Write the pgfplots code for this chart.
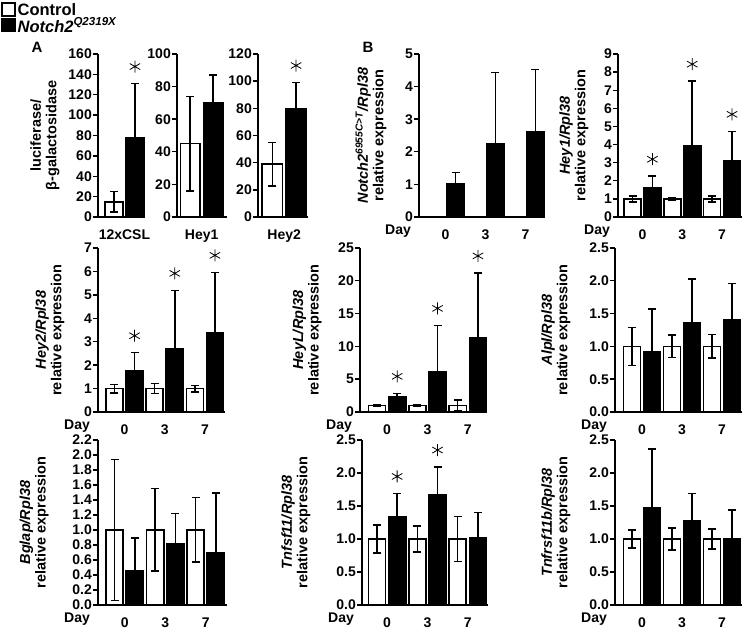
\documentclass[border=0pt]{standalone}
\usepackage{fontspec}
\setmainfont{Liberation Sans}
\usepackage{pgfplots}
\pgfplotsset{compat=1.18}

\newcommand{\tfont}{\bfseries\fontsize{14}{14}\selectfont}
\newcommand{\lfont}{\bfseries\fontsize{14.5}{15.5}\selectfont}

\pgfplotsset{
  panel/.style={
    scale only axis, anchor=south west, clip=false,
    axis x line*=bottom, axis y line*=left,
    axis line style={line width=1.6pt, -},
    every outer x axis line/.append style={-},
    every outer y axis line/.append style={-},
    ymin=0,
    tick align=outside,
    major tick length=5pt,
    ytick style={line width=1.4pt, black},
    xtick style={draw=none},
    tick label style={font=\tfont},
    /pgf/number format/assume math mode=true,
    xticklabel style={inner sep=0pt, yshift=-7.5pt},
    yticklabel style={inner sep=0pt, xshift=-1pt},
    ylabel style={font=\lfont, align=center, anchor=center},
    scaled y ticks=false,
  },
  dayaxis/.style={panel, xtick={0.5,2.5,4.5}, xticklabels={0,3,7}},
  ctrl/.style={ybar, bar width=0.85, bar shift=0pt, fill=white, draw=black, line width=1.6pt, forget plot,
     error bars/.cd, y dir=both, y explicit, error bar style={line width=1.5pt, black}, error mark options={rotate=90, line width=1.5pt, mark size=4pt, black}},
  mut/.style={ybar, bar width=0.85, bar shift=0pt, fill=black, draw=black, line width=1.6pt, forget plot,
     error bars/.cd, y dir=plus, y explicit, error bar style={line width=1.5pt, black}, error mark options={rotate=90, line width=1.5pt, mark size=4pt, black}},
  star/.style={only marks, forget plot, mark=asterisk, mark size=6pt, mark options={line width=0.8pt, yshift=17pt, black}},
  onedec/.style={yticklabel style={/pgf/number format/.cd, fixed, fixed zerofill, precision=1}},
}
\newcommand{\daylabel}{\node[anchor=north, inner sep=0pt, font=\tfont] at ([xshift=-21pt,yshift=-7.5pt]rel axis cs:0,0) {Day};}

\begin{document}
\begin{tikzpicture}[x=1pt,y=1pt]
\path[use as bounding box] (0,0) rectangle (745,631);

\node[font=\bfseries\fontsize{15}{15}\selectfont] at (37,584) {A};
\node[font=\bfseries\fontsize{15}{15}\selectfont] at (368,584) {B};

% ---------- Panel A: 12xCSL ----------
\begin{axis}[panel, at={(98pt,414pt)}, width=47pt, height=163pt,
  xmin=-0.76, xmax=1.48, ymax=160, ytick={0,20,...,160},
  xtick={0.5}, xticklabels={12xCSL},
  ylabel={luciferase/\\β-galactosidase},
  ylabel style={at={(axis description cs:-1.13,0.5)}},
  legend style={at={(axis description cs:-2.064,1.325)}, anchor=north west, draw=none, fill=none,
     inner sep=0pt, font=\bfseries\fontsize{16.5}{17}\selectfont, cells={anchor=west}, row sep=-3pt},
]
\addplot[ctrl] coordinates {(0,15) +- (0,10)};
\addplot[mut] coordinates {(1,78) +- (0,53)};
\addplot[star] coordinates {(1,131)};
\addlegendimage{legend image code/.code={\draw[fill=white,draw=black,line width=1.4pt] (0pt,-6pt) rectangle (13pt,7pt);}}
\addlegendentry{Control}
\addlegendimage{legend image code/.code={\draw[fill=black,draw=black,line width=1.4pt] (0pt,-6pt) rectangle (13pt,7pt);}}
\addlegendentry{\textit{Notch2}\textsuperscript{\textit{Q2319X}}}
\end{axis}

% ---------- Panel A: Hey1 ----------
\begin{axis}[panel, at={(177pt,414pt)}, width=50pt, height=163pt,
  xmin=-0.57, xmax=1.6, ymax=100, ytick={0,20,...,100},
  xtick={0.5}, xticklabels={Hey1}]
\addplot[ctrl] coordinates {(0,45) +- (0,29)};
\addplot[mut] coordinates {(1,70) +- (0,17)};
\end{axis}

% ---------- Panel A: Hey2 ----------
\begin{axis}[panel, at={(258pt,414pt)}, width=50pt, height=163pt,
  xmin=-0.6, xmax=1.5, ymax=120, ytick={0,20,...,120},
  xtick={0.5}, xticklabels={Hey2}]
\addplot[ctrl] coordinates {(0,39) +- (0,16)};
\addplot[mut] coordinates {(1,80) +- (0,19)};
\addplot[star] coordinates {(1,99)};
\end{axis}

% ---------- B: Notch2 ----------
\begin{axis}[dayaxis, at={(419pt,414pt)}, width=126pt, height=163pt,
  xmin=-0.83, xmax=5.48, ymax=5, ytick={0,1,...,5},
  ylabel={\textit{Notch2}\textsuperscript{\textit{6955C>T}}\textit{/Rpl38}\\relative expression},
  ylabel style={at={(axis description cs:-0.381,0.5)}}]
\addplot[mut] coordinates {(1,1.02) +- (0,0.34) (3,2.23) +- (0,2.21) (5,2.61) +- (0,1.92)};
\daylabel
\end{axis}

% ---------- B: Hey1 ----------
\begin{axis}[dayaxis, at={(618pt,414pt)}, width=124pt, height=163pt,
  xmin=-0.73, xmax=5.5, ymax=9, ytick={0,1,...,9},
  ylabel={\textit{Hey1/Rpl38}\\relative expression},
  ylabel style={at={(axis description cs:-0.355,0.5)}}]
\addplot[ctrl] coordinates {(0,1) +- (0,0.17) (2,1) +- (0,0.09) (4,1) +- (0,0.17)};
\addplot[mut] coordinates {(1,1.61) +- (0,0.64) (3,3.92) +- (0,3.58) (5,3.13) +- (0,1.6)};
\addplot[star] coordinates {(1,2.25) (3,7.5) (5,4.73)};
\daylabel
\end{axis}

% ---------- B: Hey2 ----------
\begin{axis}[dayaxis, at={(98pt,219pt)}, width=127pt, height=164pt,
  xmin=-0.82, xmax=5.5, ymax=7, ytick={0,1,...,7},
  ylabel={\textit{Hey2/Rpl38}\\relative expression},
  ylabel style={at={(axis description cs:-0.378,0.5)}}]
\addplot[ctrl] coordinates {(0,1) +- (0,0.18) (2,1) +- (0,0.22) (4,1) +- (0,0.14)};
\addplot[mut] coordinates {(1,1.76) +- (0,0.77) (3,2.71) +- (0,2.48) (5,3.39) +- (0,2.57)};
\addplot[star] coordinates {(1,2.53) (3,5.19) (5,5.96)};
\daylabel
\end{axis}

% ---------- B: HeyL ----------
\begin{axis}[dayaxis, at={(360pt,219pt)}, width=127pt, height=164pt,
  xmin=-0.84, xmax=5.45, ymax=25, ytick={0,5,...,25},
  ylabel={\textit{HeyL/Rpl38}\\relative expression},
  ylabel style={at={(axis description cs:-0.417,0.5)}}]
\addplot[ctrl] coordinates {(0,1) +- (0,0.15) (2,1) +- (0,0.15) (4,1) +- (0,0.8)};
\addplot[mut] coordinates {(1,2.24) +- (0,0.6) (3,6.15) +- (0,7.05) (5,11.3) +- (0,9.9)};
\addplot[star] coordinates {(1,2.84) (3,13.2) (5,21.2)};
\daylabel
\end{axis}

% ---------- B: Alpl ----------
\begin{axis}[dayaxis, onedec, at={(615pt,219pt)}, width=127pt, height=164pt,
  xmin=-0.85, xmax=5.5, ymax=2.5, ytick={0,0.5,...,2.5},
  ylabel={\textit{Alpl/Rpl38}\\relative expression},
  ylabel style={at={(axis description cs:-0.465,0.5)}}]
\addplot[ctrl] coordinates {(0,1) +- (0,0.29) (2,1) +- (0,0.17) (4,1) +- (0,0.18)};
\addplot[mut] coordinates {(1,0.92) +- (0,0.65) (3,1.36) +- (0,0.67) (5,1.40) +- (0,0.56)};
\daylabel
\end{axis}

% ---------- B: Bglap ----------
\begin{axis}[dayaxis, onedec, at={(98pt,26pt)}, width=129pt, height=165pt,
  xmin=-0.82, xmax=5.55, ymax=2.2, ytick={0,0.2,...,2.2},
  ylabel={\textit{Bglap/Rpl38}\\relative expression},
  ylabel style={at={(axis description cs:-0.496,0.5)}}]
\addplot[ctrl] coordinates {(0,1) +- (0,0.94) (2,1) +- (0,0.55) (4,1) +- (0,0.43)};
\addplot[mut] coordinates {(1,0.46) +- (0,0.43) (3,0.81) +- (0,0.41) (5,0.70) +- (0,0.79)};
\daylabel
\end{axis}

% ---------- B: Tnfsf11 ----------
\begin{axis}[dayaxis, onedec, at={(362pt,26pt)}, width=126pt, height=165pt,
  xmin=-0.74, xmax=5.5, ymax=2.5, ytick={0,0.5,...,2.5},
  ylabel={\textit{Tnfsf11/Rpl38}\\relative expression},
  ylabel style={at={(axis description cs:-0.524,0.5)}}]
\addplot[ctrl] coordinates {(0,1) +- (0,0.21) (2,1) +- (0,0.2) (4,1) +- (0,0.34)};
\addplot[mut] coordinates {(1,1.33) +- (0,0.36) (3,1.67) +- (0,0.42) (5,1.02) +- (0,0.38)};
\addplot[star] coordinates {(1,1.69) (3,2.09)};
\daylabel
\end{axis}

% ---------- B: Tnfrsf11b ----------
\begin{axis}[dayaxis, onedec, at={(615pt,26pt)}, width=127pt, height=165pt,
  xmin=-0.85, xmax=5.5, ymax=2.5, ytick={0,0.5,...,2.5},
  ylabel={\textit{Tnfrsf11b/Rpl38}\\relative expression},
  ylabel style={at={(axis description cs:-0.465,0.5)}}]
\addplot[ctrl] coordinates {(0,1) +- (0,0.14) (2,1) +- (0,0.17) (4,1) +- (0,0.15)};
\addplot[mut] coordinates {(1,1.47) +- (0,0.89) (3,1.27) +- (0,0.42) (5,1.01) +- (0,0.43)};
\daylabel
\end{axis}
\end{tikzpicture}
\end{document}
